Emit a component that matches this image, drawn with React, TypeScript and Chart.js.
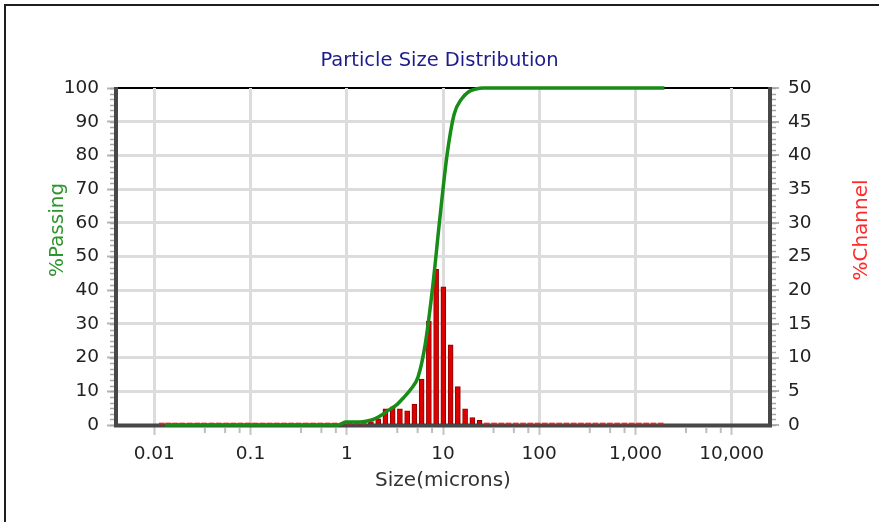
import { useEffect, useRef } from 'react';
import { Chart, registerables } from 'chart.js';

Chart.register(...registerables);

// Channel edges (microns), ascending
const SIZES = [
  0.011, 0.013, 0.015, 0.018, 0.021, 0.026, 0.030, 0.036, 0.043, 0.051,
  0.061, 0.072, 0.086, 0.102, 0.122, 0.145, 0.172, 0.204, 0.243, 0.289,
  0.344, 0.409, 0.486, 0.578, 0.688, 0.818, 0.972, 1.156, 1.375, 1.635,
  1.945, 2.312, 2.75, 3.27, 3.889, 4.625, 5.5, 6.541, 7.778, 9.25,
  11.0, 13.08, 15.56, 18.5, 22.0, 26.16, 31.11, 37.0, 44.0, 52.33,
  62.23, 74.0, 88.0, 104.7, 124.5, 148.0, 176.0, 209.3, 248.9, 296.0,
  352.0, 418.6, 497.8, 592.0, 704.0, 837.2, 995.6, 1184, 1408, 1674,
  2000,
];

// %Channel for each channel (SIZES[i], SIZES[i+1]]
const CHANNEL = [
  0, 0, 0, 0, 0, 0, 0, 0, 0, 0,
  0, 0, 0, 0, 0, 0, 0, 0, 0, 0,
  0, 0, 0, 0, 0, 0, 0, 0, 0, 0.5,
  0.9, 2.4, 2.7, 2.4, 2.1, 3.1, 6.8, 15.4, 23.1, 20.5,
  11.9, 5.7, 2.4, 1.1, 0.7, 0, 0, 0, 0, 0,
  0, 0, 0, 0, 0, 0, 0, 0, 0, 0,
  0, 0, 0, 0, 0, 0, 0, 0, 0, 0,
];

// %Passing at SIZES[1..70]
const PASSING = [
  0, 0, 0, 0, 0, 0, 0, 0, 0, 0,
  0, 0, 0, 0, 0, 0, 0, 0, 0, 0,
  0, 0, 0, 0, 0, 0.9, 0.9, 0.9, 1.2, 1.8,
  3.0, 4.5, 5.9, 8.1, 10.6, 14.2, 24.0, 40.5, 61, 80,
  92.3, 96.7, 98.9, 99.7, 100, 100, 100, 100, 100, 100,
  100, 100, 100, 100, 100, 100, 100, 100, 100, 100,
  100, 100, 100, 100, 100, 100, 100, 100, 100, 100,
];

const X_DECADES = [0.01, 0.1, 1, 10, 100, 1000, 10000];
const X_MINOR_FACTORS = [3.35, 5.45, 7.7];
const TITLE = 'Particle Size Distribution';
const X_TITLE = 'Size(microns)';
const Y_TITLE = '%Passing';
const Y2_TITLE = '%Channel';

const FONT = '"DejaVu Sans", Verdana, sans-serif';

function fmtSize(v: number): string {
  if (v >= 1) return Math.round(v).toLocaleString('en-US');
  return String(v);
}

export default function App() {
  const ref = useRef<HTMLCanvasElement>(null);

  useEffect(() => {
    if (!ref.current) return;
    const barData = CHANNEL.map((v, i) => ({ x: Math.sqrt(SIZES[i] * SIZES[i + 1]), y: v }));
    const lineData = PASSING.map((v, i) => ({ x: SIZES[i + 1], y: v }));

    const framePlugin = {
      id: 'frame',
      beforeDraw(chart: any) {
        const { ctx, chartArea } = chart;
        ctx.save();
        ctx.strokeStyle = '#000';
        ctx.lineWidth = 2;
        ctx.beginPath();
        ctx.moveTo(chartArea.left, chartArea.top);
        ctx.lineTo(chartArea.right, chartArea.top);
        ctx.stroke();
        ctx.restore();
      },
      beforeDatasetsDraw(chart: any) {
        const { ctx, chartArea, scales } = chart;
        const { left, right, top, bottom } = chartArea;
        ctx.save();
        // minor hatches on y axes
        ctx.strokeStyle = '#a6a6a6';
        ctx.lineWidth = 1.5;
        const ys = scales.y;
        for (let v = 0; v <= 100.001; v += 10 / 6) {
          const y = Math.round(ys.getPixelForValue(v)) + 0.5;
          ctx.beginPath();
          ctx.moveTo(left - 6, y);
          ctx.lineTo(left - 1, y);
          ctx.moveTo(right + 1, y);
          ctx.lineTo(right + 6, y);
          ctx.stroke();
        }
        // minor ticks on x axis
        ctx.strokeStyle = '#bdbdbd';
        ctx.lineWidth = 2;
        const xs = scales.x;
        X_DECADES.forEach((d) => {
          X_MINOR_FACTORS.forEach((f) => {
            const v = d * f;
            if (v > xs.max) return;
            const x = xs.getPixelForValue(v);
            ctx.beginPath();
            ctx.moveTo(x, bottom + 3);
            ctx.lineTo(x, bottom + 8);
            ctx.stroke();
          });
        });
        // thick axis lines
        ctx.strokeStyle = '#474747';
        ctx.lineWidth = 4;
        ctx.beginPath();
        ctx.moveTo(left, top - 1);
        ctx.lineTo(left, bottom + 0.5);
        ctx.lineTo(right, bottom + 0.5);
        ctx.lineTo(right, top - 1);
        ctx.stroke();
        ctx.restore();
      },
      afterDraw(chart: any) {
        const { ctx, chartArea } = chart;
        ctx.save();
        ctx.font = `20px ${FONT}`;
        ctx.textAlign = 'center';
        ctx.textBaseline = 'middle';
        ctx.fillStyle = '#2e962e';
        ctx.translate(chartArea.left - 58, 230);
        ctx.rotate(-Math.PI / 2);
        ctx.fillText(Y_TITLE, 0, 0);
        ctx.restore();
        ctx.save();
        ctx.font = `20px ${FONT}`;
        ctx.textAlign = 'center';
        ctx.textBaseline = 'middle';
        ctx.fillStyle = '#ff2a2a';
        ctx.translate(chartArea.right + 92, 230);
        ctx.rotate(-Math.PI / 2);
        ctx.fillText(Y2_TITLE, 0, 0);
        ctx.restore();
      },
    };

    const chart = new Chart(ref.current, {
      type: 'bar',
      data: {
        datasets: [
          {
            type: 'line',
            data: lineData as any,
            yAxisID: 'y',
            borderColor: '#178c17',
            borderWidth: 3.5,
            pointRadius: 0,
            cubicInterpolationMode: 'monotone',
            clip: false as any,
            order: 0,
          } as any,
          {
            type: 'bar',
            data: barData as any,
            yAxisID: 'y2',
            backgroundColor: (c: any) => (c.raw && c.raw.y === 0 ? '#ff1e1e' : '#dc0000'),
            borderColor: '#8e0000',
            borderWidth: (c: any) => (c.raw && c.raw.y === 0 ? 0 : 1),
            barThickness: 5,
            minBarLength: 2,
            grouped: false,
            clip: false as any,
            order: 1,
          } as any,
        ],
      },
      options: {
        animation: false,
        responsive: true,
        maintainAspectRatio: false,
        layout: { padding: 0 },
        font: { family: FONT },
        plugins: {
          legend: { display: false },
          tooltip: { enabled: false },
          title: {
            display: true,
            text: TITLE,
            color: '#1c1c8c',
            font: { family: FONT, size: 19.5, weight: 'normal' as any },
            padding: { top: 49.6, bottom: 15 },
          },
        },
        scales: {
          x: {
            type: 'logarithmic',
            min: 0.004,
            max: 25000,
            offset: false,
            afterBuildTicks: (s: any) => {
              s.ticks = X_DECADES.map((v) => ({ value: v }));
            },
            afterFit: (s: any) => {
              s.height = 97;
            },
            grid: {
              color: '#dcdcdc',
              lineWidth: 3,
              tickLength: 10,
              tickColor: '#c4c4c4',
              tickWidth: 2,
              offset: false,
            },
            border: { display: false },
            ticks: {
              autoSkip: false,
              maxRotation: 0,
              minRotation: 0,
              padding: 8,
              color: '#222',
              font: { family: FONT, size: 18.5 },
              callback: (v: any) => fmtSize(Number(v)),
            },
            title: {
              display: true,
              text: X_TITLE,
              color: '#333',
              font: { family: FONT, size: 20 },
              padding: { top: 0, bottom: 29 },
            },
          } as any,
          y: {
            type: 'linear',
            position: 'left',
            min: 0,
            max: 100,
            afterFit: (s: any) => {
              s.width = 116;
            },
            grid: {
              color: (c: any) =>
                c.tick && (c.tick.value === 0 || c.tick.value === 100) ? 'rgba(0,0,0,0)' : '#dcdcdc',
              lineWidth: 3,
              tickLength: 9,
              tickColor: '#b4b4b4',
              tickWidth: 2,
            },
            border: { display: false },
            ticks: {
              stepSize: 10,
              padding: 8,
              color: '#222',
              font: { family: FONT, size: 18.5 },
            },
          } as any,
          y2: {
            type: 'linear',
            position: 'right',
            min: 0,
            max: 50,
            afterFit: (s: any) => {
              s.width = 109;
            },
            grid: {
              drawOnChartArea: false,
              tickLength: 9,
              tickColor: '#b4b4b4',
              tickWidth: 2,
              lineWidth: 2,
            },
            border: { display: false },
            ticks: {
              stepSize: 5,
              padding: 9,
              color: '#222',
              font: { family: FONT, size: 18.5 },
            },
          } as any,
        },
      },
      plugins: [framePlugin as any],
    });
    return () => chart.destroy();
  }, []);

  return (
    <div style={{ position: 'fixed', left: 0, top: 0, width: 879, height: 522, background: '#fff' }}>
      <div
        style={{
          position: 'absolute',
          left: 4,
          top: 4,
          width: 1000,
          height: 1000,
          border: '2px solid #1e1e1e',
          boxSizing: 'border-box',
          pointerEvents: 'none',
        }}
      />
      <div style={{ position: 'absolute', left: 0, top: 0, width: 879, height: 522 }}>
        <canvas ref={ref} />
      </div>
    </div>
  );
}
